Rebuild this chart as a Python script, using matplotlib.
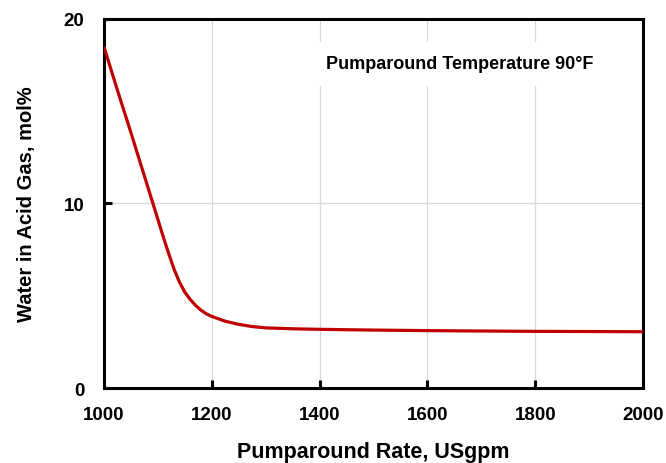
import matplotlib
matplotlib.use("Agg")
import matplotlib.pyplot as plt

# Water content of acid gas vs pumparound rate
rate = [1000, 1025, 1050, 1075, 1100, 1110, 1120, 1130, 1140, 1150, 1160,
        1170, 1180, 1190, 1200, 1225, 1250, 1275, 1300, 1350, 1400, 1500,
        1600, 1700, 1800, 1900, 2000]
water = [18.5, 16.15, 13.85, 11.5, 9.15, 8.2, 7.3, 6.45, 5.75, 5.2, 4.8,
         4.48, 4.22, 4.02, 3.88, 3.62, 3.45, 3.33, 3.26, 3.21, 3.18, 3.14,
         3.11, 3.09, 3.07, 3.06, 3.05]

x_ticks = [1000, 1200, 1400, 1600, 1800, 2000]
y_ticks = [0, 10, 20]
note = "Pumparound Temperature 90°F"

plt.rcParams["font.family"] = ["Liberation Sans", "DejaVu Sans"]

fig = plt.figure(figsize=(6.66, 4.64), dpi=100)
ax = fig.add_axes([0.156, 0.1616, 0.8095, 0.7954])

ax.plot(rate, water, color="#C00000", linewidth=2.3, zorder=3,
        solid_joinstyle="round", solid_capstyle="butt")

ax.set_xlim(1000, 2000)
ax.set_ylim(0, 20)
ax.set_xticks(x_ticks)
ax.set_yticks(y_ticks)
ax.grid(True, color="#D9D9D9", linewidth=0.9, zorder=0)
ax.set_axisbelow(True)

for spine in ax.spines.values():
    spine.set_linewidth(2.2)
    spine.set_color("black")
ax.tick_params(direction="in", length=6, width=2.2)
ax.tick_params(axis="x", pad=13)
ax.tick_params(axis="y", pad=14)
for lab in ax.get_xticklabels() + ax.get_yticklabels():
    lab.set_fontweight("bold")
    lab.set_fontsize(13.5)

ax.set_xlabel("Pumparound Rate, USgpm", fontsize=15.5, fontweight="bold", labelpad=13)
ax.set_ylabel("Water in Acid Gas, mol%", fontsize=14.5, fontweight="bold", labelpad=20)

ax.text(0.66, 0.878, note, transform=ax.transAxes, ha="center", va="center",
        fontsize=13, fontweight="bold", zorder=4,
        bbox=dict(facecolor="white", edgecolor="none", pad=10))

fig.savefig("out.png", dpi=100)
